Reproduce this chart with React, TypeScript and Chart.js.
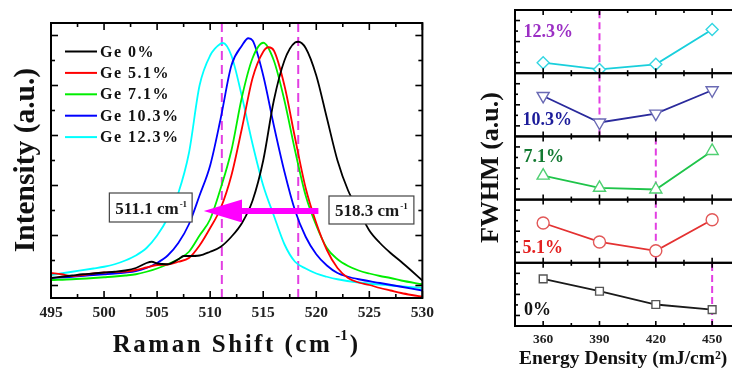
import React, { useEffect, useRef } from 'react';
import { Chart, registerables } from 'chart.js';

Chart.register(...registerables);

const SERIF = "'Liberation Serif', 'Times New Roman', serif";

// ---------------- Raman spectra (left panel) ----------------
const seriesLabels = ['Ge 0%', 'Ge 5.1%', 'Ge 7.1%', 'Ge 10.3%', 'Ge 12.3%'];
const seriesColors = ['#000000', '#ff0000', '#00ee00', '#0000ff', '#00ffff'];

const ge0: [number, number][] = [
  [495, 0.3], [496, 0.35], [497, 0.4], [498, 0.45], [499, 0.48], [500, 0.52], [501, 0.55], [502, 0.6],
  [503, 0.7], [504, 0.9], [504.5, 0.95], [505, 0.88], [506, 0.85], [507, 1.05], [507.5, 1.18], [508, 1.18],
  [509, 1.2], [510, 1.35], [511, 1.55], [512, 1.95], [513, 2.5], [514, 3.4], [515, 5.0], [516, 7.4],
  [517, 9.0], [518, 9.72], [518.3, 9.75], [519, 9.5], [520, 8.4], [521, 6.7], [522, 5.0], [523, 3.8],
  [524, 3.0], [525, 2.2], [526, 1.7], [527, 1.3], [528, 0.95], [529, 0.58], [530, 0.2],
];
const ge51: [number, number][] = [
  [495, 0.5], [496, 0.45], [497, 0.38], [498, 0.42], [499, 0.48], [500, 0.52], [501, 0.54], [502, 0.56],
  [503, 0.62], [504, 0.72], [505, 0.82], [506, 0.84], [507, 0.95], [508, 1.1], [509, 1.6], [510, 2.3],
  [511, 3.1], [512, 4.4], [513, 6.3], [514, 8.3], [515, 9.35], [515.5, 9.53], [516, 9.4], [517, 8.0],
  [518, 5.9], [519, 3.9], [520, 2.5], [521, 1.42], [522, 0.7], [523, 0.3], [524, 0.12], [525, 0.02],
  [526, -0.1], [527, -0.2], [528, -0.3], [529, -0.38], [530, -0.45],
];
const ge71: [number, number][] = [
  [495, 0.22], [497, 0.25], [499, 0.3], [500, 0.33], [501, 0.36], [502, 0.4], [503, 0.45], [504, 0.55],
  [505, 0.68], [506, 0.85], [507, 1.05], [508, 1.35], [509, 2.0], [510, 2.65], [511, 3.9], [512, 5.4],
  [513, 7.55], [514, 9.1], [515, 9.71], [516, 9.0], [517, 7.4], [518, 5.4], [519, 3.6], [520, 2.4],
  [521, 1.5], [522, 1.05], [523, 0.78], [524, 0.6], [525, 0.48], [526, 0.38], [527, 0.3], [528, 0.2],
  [530, 0.05],
];
const ge103: [number, number][] = [
  [495, 0.3], [497, 0.35], [499, 0.42], [500, 0.45], [501, 0.48], [502, 0.52], [503, 0.58], [504, 0.7],
  [505, 0.9], [506, 1.2], [507, 1.7], [508, 2.45], [509, 3.6], [510, 4.8], [511, 6.7], [512, 8.8],
  [513, 9.6], [513.6, 9.89], [514, 9.8], [515, 8.4], [516, 6.4], [517, 4.55], [518, 3.0], [519, 1.95],
  [520, 1.25], [521, 0.8], [522, 0.5], [523, 0.35], [524, 0.25], [526, 0.1], [528, -0.05], [530, -0.2],
];
const ge123: [number, number][] = [
  [495, 0.42], [497, 0.55], [499, 0.68], [500, 0.75], [501, 0.85], [502, 1.0], [503, 1.2], [504, 1.5],
  [505, 2.0], [506, 2.7], [507, 3.7], [508, 5.3], [509, 8.0], [510, 9.2], [511, 9.68], [511.2, 9.7],
  [512, 9.2], [513, 7.55], [514, 5.65], [515, 4.0], [516, 2.8], [517, 1.65], [518, 0.95], [519, 0.68],
  [520, 0.48], [521, 0.35], [522, 0.25], [524, 0.12], [527, 0.0], [530, -0.1],
];
const spectra = [ge0, ge51, ge71, ge103, ge123];
const peakMarks = [511.1, 518.3];
const peakLabels = ['511.1 cm', '518.3 cm'];

// ---------------- FWHM (right panels, top to bottom) ----------------
const energies = [360, 390, 420, 450];
const panelLabels = ['12.3%', '10.3%', '7.1%', '5.1%', '0%'];
const fwhm123 = [1.0, 0.36, 0.84, 4.14];
const fwhm103 = [3.84, 1.32, 2.16, 4.38];
const fwhm71 = [2.28, 1.12, 0.96, 4.62];
const fwhm51 = [3.78, 1.98, 1.14, 4.08];
const fwhm0 = [4.47, 3.3, 2.04, 1.56];
const fwhmSeries = [fwhm123, fwhm103, fwhm71, fwhm51, fwhm0];
const optimumEnergy = [390, 390, 420, 420, 450];

const panelStyles = [
  { line: '#19cfdc', marker: '#33d6e2', label: '#9b2fc4', style: 'rectRot', rot: 0, r: 6 },
  { line: '#2a2a9c', marker: '#6a6ab4', label: '#1c1c9a', style: 'triangle', rot: 180, r: 7 },
  { line: '#1fc44a', marker: '#4fd072', label: '#137a32', style: 'triangle', rot: 0, r: 7 },
  { line: '#e43232', marker: '#e25858', label: '#e32020', style: 'circle', rot: 0, r: 6 },
  { line: '#1a1a1a', marker: '#555555', label: '#111111', style: 'rect', rot: 0, r: 5.5 },
];
const panelLabelPos = [
  [349.5, 3.87],
  [349.0, 1.5],
  [349.5, 4.0],
  [349.0, 1.33],
  [349.8, 1.5],
];

function drawLine(ctx: CanvasRenderingContext2D, x1: number, y1: number, x2: number, y2: number) {
  ctx.beginPath();
  ctx.moveTo(x1, y1);
  ctx.lineTo(x2, y2);
  ctx.stroke();
}

const leftPlugin = {
  id: 'ramanDecor',
  afterDatasetsDraw(chart: any) {
    const { ctx, chartArea: a, scales } = chart;
    const x = scales.x;
    const y = scales.y;
    ctx.save();

    // arrow
    const ay = y.getPixelForValue(2.98);
    const tail = x.getPixelForValue(520.2);
    const base = x.getPixelForValue(513.0);
    const tip = x.getPixelForValue(509.4);
    ctx.fillStyle = '#ff00ff';
    ctx.fillRect(base - 1, ay - 3, tail - base + 1, 6);
    ctx.beginPath();
    ctx.moveTo(tip, ay);
    ctx.lineTo(base, ay - 11.5);
    ctx.lineTo(base, ay + 11.5);
    ctx.closePath();
    ctx.fill();

    // boxes
    const boxes = [
      [500.5, 508.3, 3.7, 2.54],
      [521.2, 529.2, 3.58, 2.46],
    ];
    boxes.forEach((b, i) => {
      const l = x.getPixelForValue(b[0]);
      const r = x.getPixelForValue(b[1]);
      const t = y.getPixelForValue(b[2]);
      const btm = y.getPixelForValue(b[3]);
      ctx.fillStyle = '#ffffff';
      ctx.fillRect(l, t, r - l, btm - t);
      ctx.strokeStyle = '#444';
      ctx.lineWidth = 1.2;
      ctx.strokeRect(l, t, r - l, btm - t);
      ctx.fillStyle = '#1a1a1a';
      ctx.font = `bold 17px ${SERIF}`;
      ctx.textAlign = 'left';
      ctx.textBaseline = 'alphabetic';
      const tx = l + 6;
      const tb = btm - 8;
      ctx.fillText(peakLabels[i], tx, tb);
      const w = ctx.measureText(peakLabels[i]).width;
      ctx.font = `bold 9px ${SERIF}`;
      ctx.fillText('-1', tx + w + 1, tb - 7);
    });

    // frame
    ctx.strokeStyle = '#000';
    ctx.lineWidth = 2;
    ctx.strokeRect(a.left, a.top, a.right - a.left, a.bottom - a.top);
    ctx.lineWidth = 1.6;
    const xt: number[] = x.ticks.map((t: any) => t.value);
    xt.forEach((v, i) => {
      const px = x.getPixelForValue(v);
      drawLine(ctx, px, a.bottom, px, a.bottom - 7);
      drawLine(ctx, px, a.top, px, a.top + 7);
      if (i < xt.length - 1) {
        const pm = x.getPixelForValue((v + xt[i + 1]) / 2);
        drawLine(ctx, pm, a.bottom, pm, a.bottom - 4);
        drawLine(ctx, pm, a.top, pm, a.top + 4);
      }
    });
    for (let v = 0; v <= 10; v += 1) {
      const py = y.getPixelForValue(v);
      const len = v % 2 === 0 ? 7 : 4;
      drawLine(ctx, a.left, py, a.left + len, py);
      drawLine(ctx, a.right, py, a.right - len, py);
    }
    ctx.restore();
  },
  afterDraw(chart: any) {
    const { ctx, chartArea: a } = chart;
    ctx.save();
    ctx.fillStyle = '#111';
    // legend
    chart.data.datasets.slice(0, seriesLabels.length).forEach((ds: any, i: number) => {
      const yy = 51.5 + 21.4 * i;
      ctx.strokeStyle = ds.borderColor;
      ctx.lineWidth = 2;
      drawLine(ctx, 65, yy, 97, yy);
      ctx.font = `bold 16px ${SERIF}`;
      (ctx as any).letterSpacing = '1.5px';
      ctx.textAlign = 'left';
      ctx.textBaseline = 'middle';
      ctx.fillText(ds.label, 100, yy + 1);
    });
    // x title with superscript
    const cx = (a.left + a.right) / 2;
    ctx.textBaseline = 'alphabetic';
    ctx.font = `bold 25px ${SERIF}`;
    (ctx as any).letterSpacing = '2.5px';
    const main = 'Raman Shift (cm';
    const w1 = ctx.measureText(main).width;
    const w3 = ctx.measureText(')').width;
    ctx.font = `bold 15px ${SERIF}`;
    (ctx as any).letterSpacing = '0px';
    const w2 = ctx.measureText('-1').width;
    const total = w1 + 3 + w2 + 2 + w3;
    let sx = cx - total / 2;
    ctx.textAlign = 'left';
    ctx.font = `bold 25px ${SERIF}`;
    (ctx as any).letterSpacing = '2.5px';
    ctx.fillText(main, sx, 352);
    sx += w1 + 3;
    ctx.font = `bold 15px ${SERIF}`;
    (ctx as any).letterSpacing = '0px';
    ctx.fillText('-1', sx, 340);
    sx += w2 + 2;
    ctx.font = `bold 25px ${SERIF}`;
    ctx.fillText(')', sx, 352);
    // y title
    ctx.translate(33.5, 160);
    ctx.rotate(-Math.PI / 2);
    ctx.textAlign = 'center';
    ctx.font = `bold 29.5px ${SERIF}`;
    ctx.fillText('Intensity (a.u.)', 0, 0);
    ctx.restore();
  },
};

const rightPlugin = {
  id: 'fwhmDecor',
  afterDatasetsDraw(chart: any) {
    const { ctx, chartArea: a, scales } = chart;
    const x = scales.x;
    ctx.save();
    panelLabels.forEach((lab, i) => {
      const s = scales['y' + i];
      const top = s.top;
      const bottom = s.bottom;
      ctx.strokeStyle = '#000';
      ctx.lineWidth = 2;
      ctx.strokeRect(a.left, top, a.right - a.left, bottom - top);
      ctx.lineWidth = 1.6;
      x.ticks.forEach((t: any) => {
        const v = t.value;
        if (v < 360 || v > 450) return;
        const px = x.getPixelForValue(v);
        const len = (v - 360) % 30 === 0 ? 5 : 3;
        drawLine(ctx, px, top, px, top + len);
        drawLine(ctx, px, bottom, px, bottom - len);
      });
      for (let v = 1; v <= 5; v++) {
        const py = s.getPixelForValue(v);
        const len = v % 2 === 1 ? 5 : 3;
        drawLine(ctx, a.left, py, a.left + len, py);
      }
      const st = panelStyles[i];
      ctx.fillStyle = st.label;
      ctx.font = `bold 18px ${SERIF}`;
      ctx.textAlign = 'left';
      ctx.textBaseline = 'middle';
      ctx.fillText(lab, x.getPixelForValue(panelLabelPos[i][0]), s.getPixelForValue(panelLabelPos[i][1]));
    });
    // y title
    ctx.fillStyle = '#111';
    ctx.translate(48.3, 167.5);
    ctx.rotate(-Math.PI / 2);
    ctx.textAlign = 'center';
    ctx.textBaseline = 'alphabetic';
    ctx.font = `bold 26px ${SERIF}`;
    ctx.fillText('FWHM (a.u.)', 0, 0);
    ctx.restore();
  },
};

function leftConfig(): any {
  const curveSets = spectra.map((pts, i) => ({
    label: seriesLabels[i],
    data: pts.map(([px, py]) => ({ x: px, y: py })),
    borderColor: seriesColors[i],
    borderWidth: 1.8,
    pointRadius: 0,
    fill: false,
    cubicInterpolationMode: 'monotone',
  }));
  const dashSets = peakMarks.map((m) => ({
    label: 'peak ' + m,
    data: [{ x: m, y: -0.5 }, { x: m, y: 10.5 }],
    borderColor: '#e23ee2',
    borderWidth: 2,
    borderDash: [9, 5],
    pointRadius: 0,
    fill: false,
  }));
  return {
    type: 'line',
    data: { datasets: [...curveSets, ...dashSets] },
    plugins: [leftPlugin],
    options: {
      animation: false,
      responsive: false,
      devicePixelRatio: 1,
      layout: { padding: { left: 0, right: 12, top: 23, bottom: 0 } },
      plugins: { legend: { display: false }, tooltip: { enabled: false } },
      scales: {
        x: {
          type: 'linear',
          min: 495,
          max: 530,
          grid: { display: false, drawTicks: false },
          border: { display: false },
          ticks: {
            stepSize: 5,
            padding: 6,
            color: '#222',
            font: { family: SERIF, size: 15.5, weight: 'bold' },
            callback: (v: number) => String(v),
            autoSkip: false,
            maxRotation: 0,
          },
          afterFit: (s: any) => { s.height = 71; },
        },
        y: {
          type: 'linear',
          min: -0.5,
          max: 10.5,
          grid: { display: false, drawTicks: false },
          border: { display: false },
          ticks: { display: false },
          afterFit: (s: any) => { s.width = 51; },
        },
      },
    },
  };
}

function rightConfig(): any {
  const datasets: any[] = [];
  fwhmSeries.forEach((vals, i) => {
    const st = panelStyles[i];
    datasets.push({
      label: panelLabels[i],
      yAxisID: 'y' + i,
      data: energies.map((e, k) => ({ x: e, y: vals[k] })),
      borderColor: st.line,
      borderWidth: 1.8,
      pointStyle: st.style,
      pointRotation: st.rot,
      pointRadius: st.r,
      pointBorderColor: st.marker,
      pointBackgroundColor: '#ffffff',
      pointBorderWidth: 1.4,
      fill: false,
      tension: 0,
      order: 1,
    });
    datasets.push({
      label: 'opt ' + panelLabels[i],
      yAxisID: 'y' + i,
      data: [{ x: optimumEnergy[i], y: 0 }, { x: optimumEnergy[i], y: 6 }],
      borderColor: '#e23ee2',
      borderWidth: 2,
      borderDash: [7, 4],
      pointRadius: 0,
      fill: false,
      order: 2,
    });
  });
  const scales: any = {
    x: {
      type: 'linear',
      min: 345,
      max: 465,
      grid: { display: false, drawTicks: false },
      border: { display: false },
      ticks: {
        stepSize: 15,
        padding: 5,
        color: '#222',
        font: { family: SERIF, size: 13.5, weight: 'bold' },
        autoSkip: false,
        maxRotation: 0,
        callback: (v: number) => (v >= 360 && v <= 450 && (v - 360) % 30 === 0 ? String(v) : ''),
      },
      title: {
        display: true,
        align: 'start',
        text: '\u2009Energy Density (mJ/cm²)',
        color: '#111',
        font: { family: SERIF, size: 19.5, weight: 'bold', lineHeight: 1 },
        padding: { top: 0, bottom: 0 },
      },
      afterFit: (s: any) => { s.height = 43; },
    },
  };
  // stacked axes are laid out bottom-up in creation order, so add the lowest panel first
  for (let i = panelLabels.length - 1; i >= 0; i--) {
    scales['y' + i] = {
      type: 'linear',
      position: 'left',
      stack: 'fwhm',
      stackWeight: 1,
      min: 0,
      max: 6,
      grid: { display: false, drawTicks: false },
      border: { display: false },
      ticks: { display: false },
      afterFit: (s: any) => { s.width = 65; },
    };
  }
  return {
    type: 'line',
    data: { datasets },
    plugins: [rightPlugin],
    options: {
      animation: false,
      responsive: false,
      devicePixelRatio: 1,
      layout: { padding: { left: 0, right: 9.7, top: 10, bottom: 0 } },
      plugins: { legend: { display: false }, tooltip: { enabled: false } },
      scales,
    },
  };
}

export default function App() {
  const leftRef = useRef<HTMLCanvasElement>(null);
  const rightRef = useRef<HTMLCanvasElement>(null);
  useEffect(() => {
    const c1 = new Chart(leftRef.current as HTMLCanvasElement, leftConfig());
    const c2 = new Chart(rightRef.current as HTMLCanvasElement, rightConfig());
    return () => {
      c1.destroy();
      c2.destroy();
    };
  }, []);
  return (
    <div style={{ position: 'fixed', left: 0, top: 0, width: 732, height: 369, overflow: 'hidden', background: '#ffffff' }}>
      <canvas ref={leftRef} width={440} height={369} style={{ position: 'absolute', left: 0, top: 0, width: 440, height: 369 }} />
      <canvas ref={rightRef} width={300} height={369} style={{ position: 'absolute', left: 450, top: 0, width: 300, height: 369 }} />
    </div>
  );
}
